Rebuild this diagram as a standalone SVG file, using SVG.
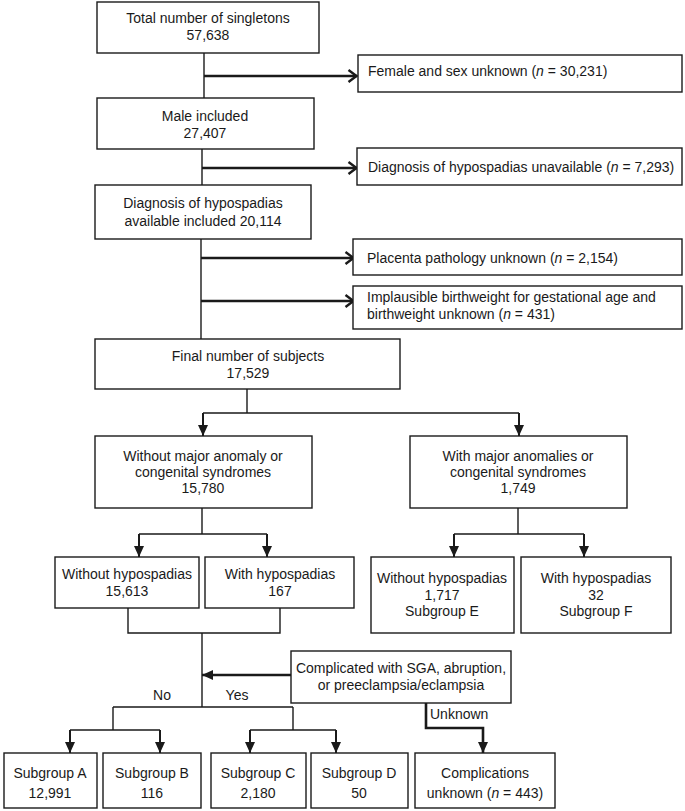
<svg xmlns="http://www.w3.org/2000/svg" width="685" height="811" viewBox="0 0 685 811">
<style>
rect.b{fill:#fff;stroke:#1a1a1a;stroke-width:1.4}
text{font-family:"Liberation Sans",Arial,sans-serif;font-size:14px;fill:#1a1a1a}
.c{text-anchor:middle}
.l{fill:none;stroke:#1a1a1a;stroke-width:1.4}
.t{fill:none;stroke:#1a1a1a;stroke-width:2.6}
.d{fill:none;stroke:#1a1a1a;stroke-width:2}
</style>
<defs>
<marker id="open" markerUnits="userSpaceOnUse" viewBox="0 0 12 14" markerWidth="12" markerHeight="14" refX="10.5" refY="7" orient="auto">
<path d="M2,1 L10,7 L2,13" fill="none" stroke="#1a1a1a" stroke-width="2.4"/>
</marker>
<marker id="tri" markerUnits="userSpaceOnUse" viewBox="0 0 11 10" markerWidth="11" markerHeight="10" refX="11" refY="5" orient="auto">
<path d="M0,0 L11,5 L0,10 Z" fill="#1a1a1a"/>
</marker>
</defs>
<g id="connectors">
<path class="l" d="M204,53 V98"/>
<path class="t" d="M204,76 H357" marker-end="url(#open)"/>
<path class="l" d="M202,149 V185"/>
<path class="t" d="M202,168 H357" marker-end="url(#open)"/>
<path class="l" d="M201,239 V339"/>
<path class="t" d="M201,258 H354" marker-end="url(#open)"/>
<path class="t" d="M201,301 H354" marker-end="url(#open)"/>
<path class="l" d="M247,389 V413 M203,413 H519"/>
<path class="d" d="M203,413 V436" marker-end="url(#tri)"/>
<path class="d" d="M519,413 V436" marker-end="url(#tri)"/>
<path class="l" d="M202,508 V534 M139,534 H267"/>
<path class="d" d="M139,534 V557" marker-end="url(#tri)"/>
<path class="d" d="M267,534 V557" marker-end="url(#tri)"/>
<path class="l" d="M518,508 V534 M454,534 H584"/>
<path class="d" d="M454,534 V557" marker-end="url(#tri)"/>
<path class="d" d="M584,534 V557" marker-end="url(#tri)"/>
<path class="l" d="M128,608 V633 H280 V608 M202,633 V707"/>
<path class="t" d="M291,675 H202" marker-end="url(#tri)"/>
<path class="l" d="M113,707 H293 M113,707 V730 M293,707 V730 M70,730 H160 M250,730 H336"/>
<path class="d" d="M70,730 V753" marker-end="url(#tri)"/>
<path class="d" d="M160,730 V753" marker-end="url(#tri)"/>
<path class="d" d="M250,730 V753" marker-end="url(#tri)"/>
<path class="d" d="M336,730 V753" marker-end="url(#tri)"/>
<path class="t" d="M426,703 V728 H483 V753" marker-end="url(#tri)"/>
<text x="162" y="700" class="c">No</text>
<text x="237" y="700" class="c">Yes</text>
<text x="430" y="719">Unknown</text>
</g>
<g id="total">
<rect class="b" x="97" y="2" width="222" height="51"/>
<text x="208" y="23" class="c">Total number of singletons</text>
<text x="208" y="40" class="c">57,638</text>
</g>
<g id="female">
<rect class="b" x="358" y="55" width="324" height="37"/>
<text x="368" y="76">Female and sex unknown (<tspan font-style="italic">n</tspan> = 30,231)</text>
</g>
<g id="male">
<rect class="b" x="97" y="98" width="217" height="51"/>
<text x="205" y="121" class="c">Male included</text>
<text x="205" y="138" class="c">27,407</text>
</g>
<g id="unavailable">
<rect class="b" x="357" y="148" width="325" height="37"/>
<text x="368" y="172">Diagnosis of hypospadias unavailable (<tspan font-style="italic">n</tspan> = 7,293)</text>
</g>
<g id="available">
<rect class="b" x="95" y="185" width="216" height="54"/>
<text x="203" y="208" class="c">Diagnosis of hypospadias</text>
<text x="203" y="226" class="c">available included 20,114</text>
</g>
<g id="placenta">
<rect class="b" x="353" y="239" width="329" height="36"/>
<text x="367" y="263">Placenta pathology unknown (<tspan font-style="italic">n</tspan> = 2,154)</text>
</g>
<g id="implausible">
<rect class="b" x="353" y="286" width="329" height="43"/>
<text x="367" y="302">Implausible birthweight for gestational age and</text>
<text x="367" y="319">birthweight unknown (<tspan font-style="italic">n</tspan> = 431)</text>
</g>
<g id="final">
<rect class="b" x="95" y="339" width="305" height="50"/>
<text x="248" y="361" class="c">Final number of subjects</text>
<text x="248" y="378" class="c">17,529</text>
</g>
<g id="without-major">
<rect class="b" x="95" y="436" width="217" height="72"/>
<text x="203" y="461" class="c">Without major anomaly or</text>
<text x="203" y="477" class="c">congenital syndromes</text>
<text x="203" y="493" class="c">15,780</text>
</g>
<g id="with-major">
<rect class="b" x="410" y="436" width="217" height="72"/>
<text x="518" y="461" class="c">With major anomalies or</text>
<text x="518" y="477" class="c">congenital syndromes</text>
<text x="518" y="493" class="c">1,749</text>
</g>
<g id="without-hypo">
<rect class="b" x="55" y="557" width="144" height="51"/>
<text x="127" y="579" class="c">Without hypospadias</text>
<text x="127" y="596" class="c">15,613</text>
</g>
<g id="with-hypo">
<rect class="b" x="205" y="557" width="149" height="51"/>
<text x="280" y="579" class="c">With hypospadias</text>
<text x="280" y="596" class="c">167</text>
</g>
<g id="subgroup-e">
<rect class="b" x="371" y="557" width="143" height="76"/>
<text x="442" y="583" class="c">Without hypospadias</text>
<text x="442" y="600" class="c">1,717</text>
<text x="442" y="616" class="c">Subgroup E</text>
</g>
<g id="subgroup-f">
<rect class="b" x="521" y="557" width="150" height="76"/>
<text x="596" y="583" class="c">With hypospadias</text>
<text x="596" y="600" class="c">32</text>
<text x="596" y="616" class="c">Subgroup F</text>
</g>
<g id="complicated">
<rect class="b" x="291" y="651" width="220" height="52"/>
<text x="401" y="673" class="c">Complicated with SGA, abruption,</text>
<text x="401" y="690" class="c">or preeclampsia/eclampsia</text>
</g>
<g id="subgroup-a">
<rect class="b" x="4" y="753" width="93" height="55"/>
<text x="50" y="778" class="c">Subgroup A</text>
<text x="50" y="798" class="c">12,991</text>
</g>
<g id="subgroup-b">
<rect class="b" x="103" y="753" width="98" height="55"/>
<text x="152" y="778" class="c">Subgroup B</text>
<text x="152" y="798" class="c">116</text>
</g>
<g id="subgroup-c">
<rect class="b" x="211" y="753" width="95" height="55"/>
<text x="258" y="778" class="c">Subgroup C</text>
<text x="258" y="798" class="c">2,180</text>
</g>
<g id="subgroup-d">
<rect class="b" x="311" y="753" width="97" height="55"/>
<text x="359" y="778" class="c">Subgroup D</text>
<text x="359" y="798" class="c">50</text>
</g>
<g id="complications-unknown">
<rect class="b" x="415" y="753" width="140" height="55"/>
<text x="485" y="778" class="c">Complications</text>
<text x="485" y="798" class="c">unknown (<tspan font-style="italic">n</tspan> = 443)</text>
</g>
</svg>
